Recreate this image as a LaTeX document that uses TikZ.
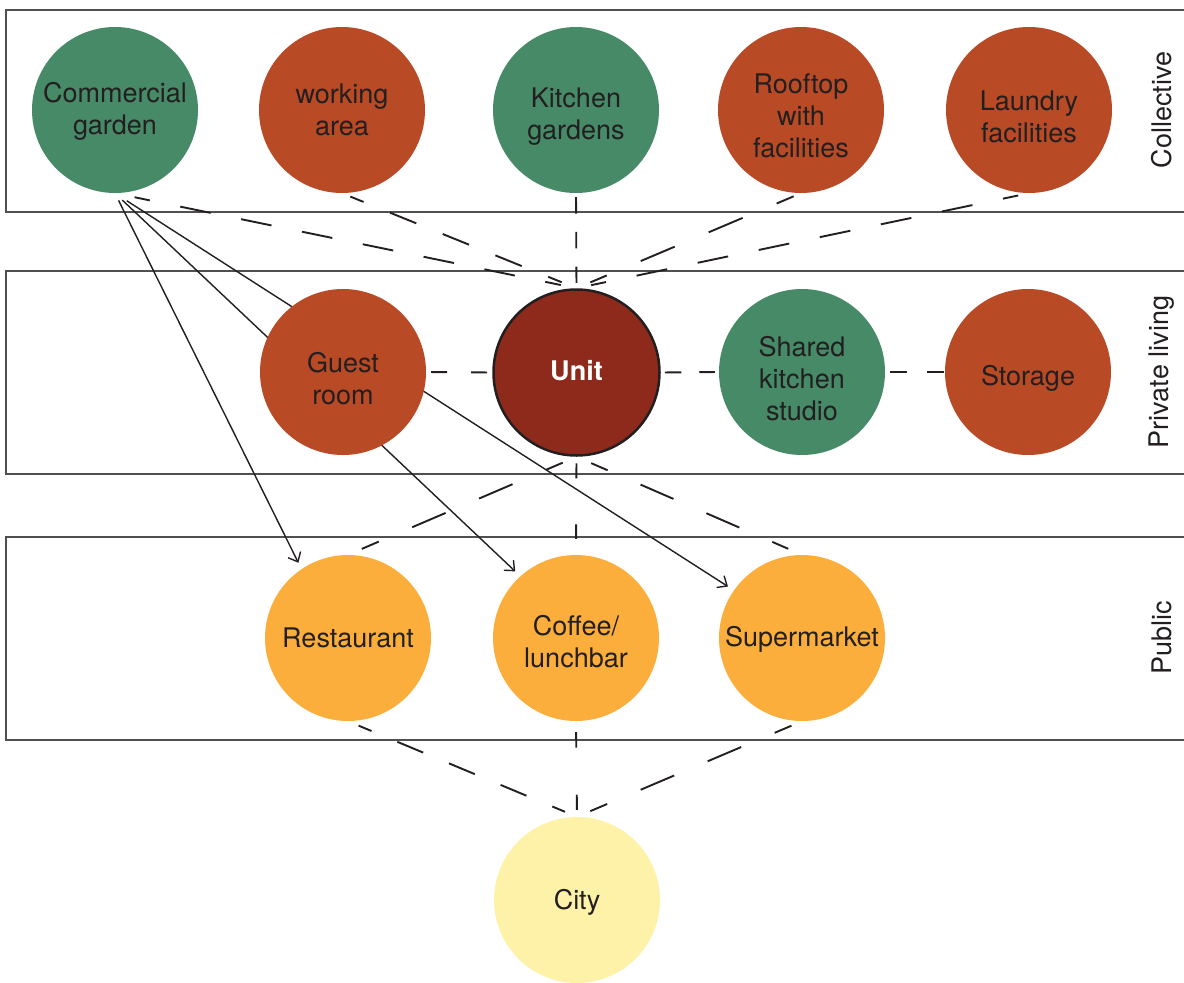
\documentclass[tikz,border=0pt]{standalone}
\usepackage{fontspec}
\setmainfont{TeX Gyre Heros}
\usetikzlibrary{arrows.meta,backgrounds}
\definecolor{cgreen}{HTML}{468A68}
\definecolor{cred}{HTML}{B84A26}
\definecolor{cunit}{HTML}{8E2A1C}
\definecolor{corange}{HTML}{FBAE3C}
\definecolor{cyellow}{HTML}{FEF2A8}
\definecolor{ctext}{HTML}{231F20}
\definecolor{cbox}{HTML}{505050}
\begin{document}
\begin{tikzpicture}[x=1pt,y=-1pt,
  every node/.style={font=\fontsize{27}{32}\selectfont, text=ctext},
  place/.style={circle, minimum size=166pt, inner sep=0pt},
  lbl/.style={align=center, inner sep=0pt},
  gplace/.style={place, fill=cgreen},
  rplace/.style={place, fill=cred},
  oplace/.style={place, fill=corange},
  uplace/.style={place, fill=cunit, draw=ctext, line width=2.5pt},
  yplace/.style={place, fill=cyellow},
  dline/.style={draw=ctext, line width=1.9pt},
  dl/.style args={#1/#2}{dash pattern=on #1pt off #1pt, dash phase=#2pt},
  arr/.style={draw=ctext, line width=1.4pt, -{Straight Barb[length=8pt,width=14pt,line width=1.4pt]}},
  boxline/.style={draw=cbox, line width=1.3pt},
  side/.style={rotate=90}
]
\useasboundingbox (0,0) rectangle (1184,983);

% circles
\node[gplace, label={[lbl,name=cg-t,yshift=-1.5pt]center:{Commercial\\garden}}] (cg) at (115,110) {};
\node[rplace, label={[lbl,name=wa-t,yshift=0pt]center:{working\\area}}] (wa) at (342,110) {};
\node[gplace, label={[lbl,name=kg-t,yshift=-6.5pt]center:{Kitchen\\gardens}}] (kg) at (576,110) {};
\node[rplace, label={[lbl,name=rt-t,yshift=-6pt]center:{Rooftop\\with\\facilities}}] (rt) at (801,110) {};
\node[rplace, label={[lbl,name=lf-t,yshift=-6.5pt]center:{Laundry\\facilities}}] (lf) at (1029,110) {};

\node[rplace, label={[lbl,name=guest-t,yshift=-6.5pt]center:{Guest\\room}}] (guest) at (343,372) {};
\node[uplace, label={[lbl,name=unit-t,yshift=1.5pt,text=white,font=\fontsize{27}{32}\selectfont\bfseries]center:{Unit}}] (unit) at (576.5,372.5) {};
\node[gplace, label={[lbl,name=shared-t,yshift=-6.5pt]center:{Shared\\kitchen\\studio}}] (shared) at (802,372) {};
\node[rplace, label={[lbl,name=storage-t,yshift=-6.5pt]center:{Storage}}] (storage) at (1028,372) {};

\node[oplace, label={[lbl,name=rest-t,yshift=0pt]center:{Restaurant}}] (rest) at (348,638) {};
\node[oplace, label={[lbl,name=coffee-t,yshift=-4pt]center:{Coffee/\\lunchbar}}] (coffee) at (576,638) {};
\node[oplace, label={[lbl,name=super-t,yshift=-1.5pt]center:{Supermarket}}] (super) at (802,638) {};

\node[yplace, label={[lbl,name=city-t,yshift=-2pt]center:{City}}] (city) at (577,900) {};

% side labels
\node[side] (lcol) at (1162,110) {Collective};
\node[side] (lpriv) at (1162,372) {Private living};
\node[side] (lpub) at (1162,638) {Public};

\begin{pgfonlayer}{background}
% boxes
\draw[boxline] (1184,10) -- (6,10) -- (6,212) -- (1184,212);
\draw[boxline] (1184,271) -- (6,271) -- (6,474) -- (1184,474);
\draw[boxline] (1184,537) -- (6,537) -- (6,740) -- (1184,740);

% dashed connectors
\draw[dline, dl=31.06/15.53, shorten <=20pt, shorten >=16pt] (cg.south) -- (unit.north);
\draw[dline, dl=28.46/14.23, shorten <=9pt, shorten >=16pt] (wa.south) -- (unit.north);
\draw[dline, dash pattern=on 16.5pt off 18.25pt, shorten <=4pt, shorten >=5.5pt] (kg.south) -- (unit.north);
\draw[dline, dl=36.9/18.45, shorten <=8pt, shorten >=15pt] (rt.south) -- (unit.north);
\draw[dline, dl=31.2/15.6, shorten <=11pt, shorten >=15pt] (lf.south) -- (unit.north);

\draw[dline, dash pattern=on 16pt off 24pt, shorten <=5pt, shorten >=5pt] (guest.east) -- (unit.west);
\draw[dline, dash pattern=on 16.5pt off 18pt, shorten <=4pt, shorten >=4pt] (unit.east) -- (shared.west);
\draw[dline, dash pattern=on 17pt off 20pt, shorten <=5pt, shorten >=1pt] (shared.east) -- (storage.west);

\draw[dline, dl=36.4/18.2, shorten <=15pt, shorten >=15pt] (unit.south) -- (rest.north);
\draw[dline, dash pattern=on 15pt off 46pt, shorten <=6.5pt, shorten >=16pt] (unit.south) -- (coffee.north);
\draw[dline, dl=35.9/17.95, shorten <=16pt, shorten >=15pt] (unit.south) -- (super.north);

\draw[dline, dl=27.98/13.99, shorten <=11.5pt, shorten >=13pt] (rest.south) -- (city.north);
\draw[dline, dash pattern=on 15.5pt off 47pt, shorten <=11pt, shorten >=7pt] (coffee.south) -- (city.north);
\draw[dline, dl=36.4/18.2, shorten <=11.5pt, shorten >=14.5pt] (super.south) -- (city.north);

% solid arrows
\draw[arr, shorten <=8pt, shorten >=7pt] (cg.south) -- (rest.124);
\draw[arr, shorten <=10pt, shorten >=7pt] (cg.south) -- (coffee.132);
\draw[arr, shorten <=14pt, shorten >=7pt] (cg.south) -- (super.145);
\end{pgfonlayer}
\end{tikzpicture}
\end{document}
